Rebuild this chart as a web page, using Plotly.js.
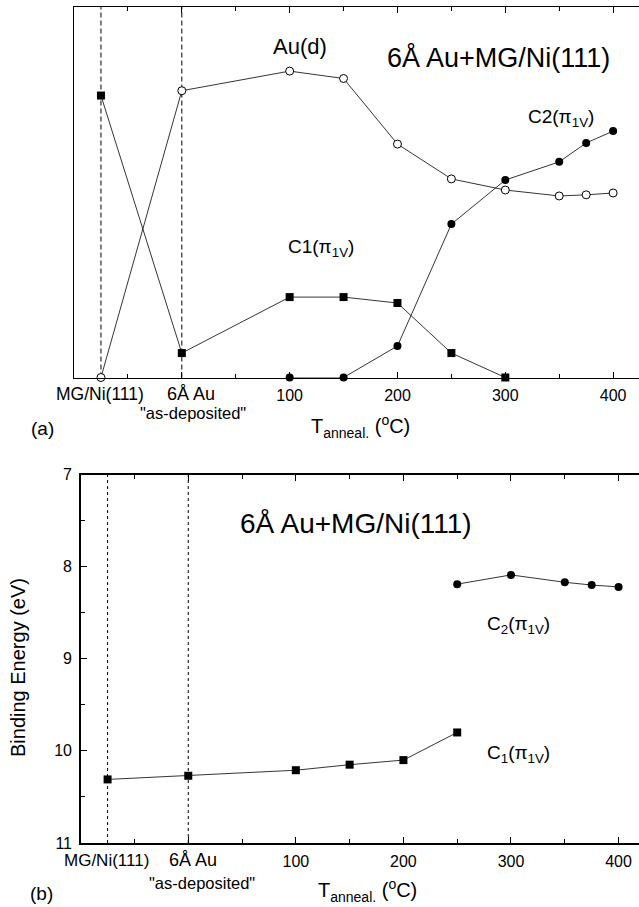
<!DOCTYPE html>
<html>
<head>
<meta charset="utf-8">
<script src="https://cdn.plot.ly/plotly-3.0.1.min.js"></script>
<style>html,body{margin:0;padding:0;background:#fff;}#chart{width:639px;height:907px;}</style>
</head>
<body>
<div id="chart"></div>
<script>
// ---- data (panel a: relative intensity, arbitrary units) ----
const auX  = [-75, 0, 100, 150, 200, 250, 300, 350, 375, 400];
const auY  = [0, 77.4, 82.7, 80.7, 63.0, 53.6, 50.6, 49.0, 49.3, 49.8];
const c1aX = [-75, 0, 100, 150, 200, 250, 300];
const c1aY = [76.1, 6.6, 21.7, 21.7, 20.1, 6.6, 0];
const c2aX = [100, 150, 200, 250, 300, 350, 375, 400];
const c2aY = [0, 0, 8.5, 41.4, 53.3, 58.2, 63.3, 66.5];
// ---- data (panel b: binding energy, eV) ----
const c1bX = [-75, 0, 100, 150, 200, 250];
const c1bY = [10.31, 10.27, 10.21, 10.15, 10.10, 9.80];
const c2bX = [250, 300, 350, 375, 400];
const c2bY = [8.19, 8.09, 8.17, 8.20, 8.22];
// ---- categories / ticks ----
const refX = [-75, 0];
const refLabels = ['MG/Ni(111)', '6Å Au'];
const tickVals = [0, 100, 200, 300, 400];
const tickText = ['', '100', '200', '300', '400'];
const yTickVals = [7, 8, 9, 10, 11];

const W = 639, H = 907;
const px = x => x / W;
const py = y => 1 - y / H;
const FONT = '"Liberation Sans", Arial, Helvetica, sans-serif';

const lineStyle = {color: '#000', width: 0.8};
const sq = {symbol: 'square', size: 8, color: '#000'};
const dot = {symbol: 'circle', size: 8, color: '#000'};
const ring = {symbol: 'circle', size: 8, color: '#fff', line: {color: '#000', width: 1}};

const traces = [
  {x: c1aX, y: c1aY, xaxis: 'x', yaxis: 'y', mode: 'lines+markers', line: lineStyle, marker: sq, cliponaxis: false},
  {x: auX, y: auY, xaxis: 'x', yaxis: 'y', mode: 'lines+markers', line: lineStyle, marker: ring, cliponaxis: false},
  {x: c2aX, y: c2aY, xaxis: 'x', yaxis: 'y', mode: 'lines+markers', line: lineStyle, marker: dot, cliponaxis: false},
  {x: c1bX, y: c1bY, xaxis: 'x2', yaxis: 'y2', mode: 'lines+markers', line: lineStyle, marker: sq, cliponaxis: false},
  {x: c2bX, y: c2bY, xaxis: 'x2', yaxis: 'y2', mode: 'lines+markers', line: lineStyle, marker: dot, cliponaxis: false}
];

const xCommon = {
  tickmode: 'array', tickvals: tickVals, ticktext: tickText,
  ticks: 'inside', ticklen: 6, tickwidth: 1, tickcolor: '#000',
  minor: {dtick: 50, tick0: 0, ticks: 'inside', ticklen: 4, tickwidth: 1, tickcolor: '#000'},
  showline: true, linecolor: '#000', linewidth: 1.5, mirror: 'ticks',
  showgrid: false, zeroline: false, fixedrange: true,
  tickfont: {family: FONT, size: 16, color: '#000'}, ticklabelstandoff: 3
};

const shapes = [];
refX.forEach(v => {
  shapes.push({type: 'line', xref: 'x', yref: 'y domain', x0: v, x1: v, y0: 0, y1: 1,
    line: {color: '#000', width: 1, dash: '5px,3px'}, layer: 'below'});
  shapes.push({type: 'line', xref: 'x2', yref: 'y2 domain', x0: v, x1: v, y0: 0, y1: 1,
    line: {color: '#000', width: 1, dash: 'dot'}, layer: 'below'});
});

function ann(text, x, y, size, extra) {
  return Object.assign({text: text, xref: 'paper', yref: 'paper', x: px(x), y: py(y),
    xanchor: 'center', yanchor: 'middle', showarrow: false,
    font: {family: FONT, size: size, color: '#000'}}, extra || {});
}

const annotations = [
  ann('Au(d)', 300, 46, 22),
  ann('6Å Au+MG/Ni(111)', 499, 57, 27),
  ann('C2(π<sub>1V</sub>)', 561, 118, 19),
  ann('C1(π<sub>1V</sub>)', 321, 248, 19),
  ann(refLabels[0], 100, 394, 17.5),
  ann(refLabels[1], 191, 394, 18),
  ann('"as-deposited"', 193, 413, 16.5),
  ann('(a)', 42, 428, 19),
  ann('T<sub>anneal.</sub> (<sup>o</sup>C)', 360, 426, 20),

  ann('6Å Au+MG/Ni(111)', 356, 523, 28),
  ann('C<sub>2</sub>(π<sub>1V</sub>)', 518, 625, 19),
  ann('C<sub>1</sub>(π<sub>1V</sub>)', 518, 754, 19),
  ann(refLabels[0], 106, 860, 17),
  ann(refLabels[1], 193, 860, 18),
  ann('"as-deposited"', 202, 883, 16.5),
  ann('(b)', 41, 893, 19),
  ann('T<sub>anneal.</sub> (<sup>o</sup>C)', 367, 890, 20),
  ann('Binding Energy (eV)', 18, 668, 20, {textangle: -90})
];

const layout = {
  width: W, height: H,
  margin: {l: 0, r: 0, t: 0, b: 0, pad: 0},
  paper_bgcolor: '#fff', plot_bgcolor: '#fff',
  showlegend: false,
  font: {family: FONT, color: '#000'},
  xaxis: Object.assign({}, xCommon, {domain: [px(74), 1], range: [-100, 424], anchor: 'y'}),
  yaxis: {domain: [py(377.5), py(7)], range: [0, 100], anchor: 'x',
    showline: true, linecolor: '#000', linewidth: 1.5, ticks: '', showticklabels: false,
    showgrid: false, zeroline: false, fixedrange: true},
  xaxis2: Object.assign({}, xCommon, {domain: [px(80.7), 1], range: [-100, 419], anchor: 'y2'}),
  yaxis2: {domain: [py(843), py(474.5)], range: [11, 7], anchor: 'x2',
    tickmode: 'array', tickvals: yTickVals, ticks: 'inside', ticklen: 6, tickwidth: 1, tickcolor: '#000',
    minor: {dtick: 0.5, tick0: 7, ticks: 'inside', ticklen: 4, tickwidth: 1, tickcolor: '#000'},
    showline: true, linecolor: '#000', linewidth: 1.5, mirror: false,
    showgrid: false, zeroline: false, fixedrange: true,
    tickfont: {family: FONT, size: 16, color: '#000'}, ticklabelstandoff: 4},
  shapes: shapes,
  annotations: annotations
};

Plotly.newPlot('chart', traces, layout, {displayModeBar: false, staticPlot: true});
</script>
</body>
</html>
